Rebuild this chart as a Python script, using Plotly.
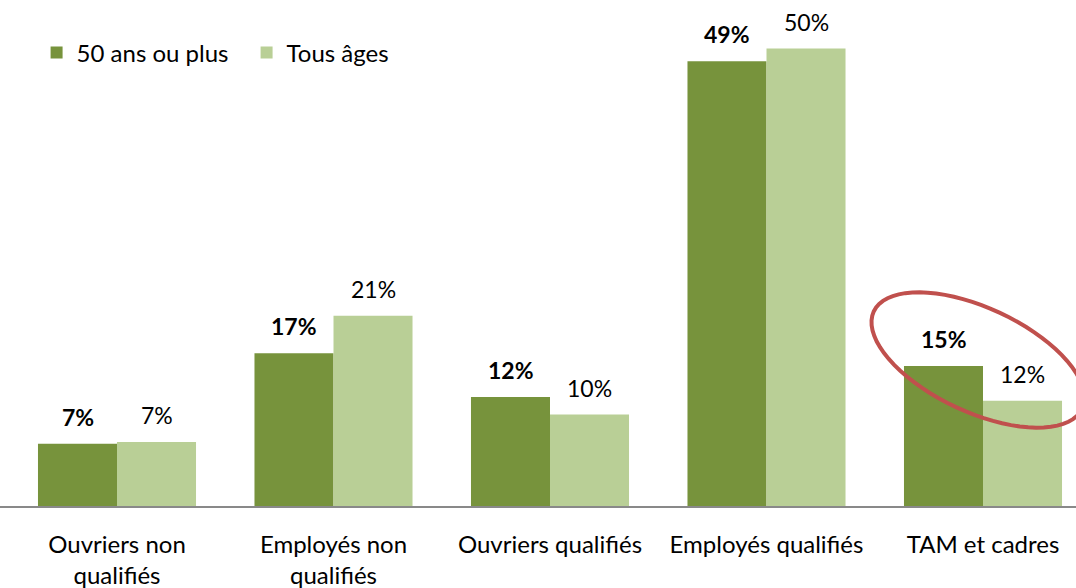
import math
import plotly.graph_objects as go

categories = ["Ouvriers non<br>qualifiés", "Employés non<br>qualifiés", "Ouvriers qualifiés",
              "Employés qualifiés", "TAM et cadres"]
series_names = ["50 ans ou plus", "Tous âges"]
values_50plus = [6.8, 16.7, 11.9, 48.6, 15.3]
values_all = [7.0, 20.8, 10.0, 50.0, 11.5]
labels_50plus = ["7%", "17%", "12%", "49%", "15%"]
labels_all = ["7%", "21%", "10%", "50%", "12%"]

DARK = "#77933C"
LIGHT = "#B9CF96"
FONT = "Lato"
FS = 24

W, H = 1076, 588
PLOT_H = 506
px_per_cat = 216.5
xmin = -117 / px_per_cat
xmax = xmin + W / px_per_cat
ymax = PLOT_H / 9.15

fig = go.Figure()
fig.add_trace(go.Bar(x=list(range(5)), y=values_50plus, name=series_names[0],
                     marker=dict(color=DARK, line=dict(width=0))))
fig.add_trace(go.Bar(x=list(range(5)), y=values_all, name=series_names[1],
                     marker=dict(color=LIGHT, line=dict(width=0))))

annotations = []
for i in range(5):
    annotations.append(dict(x=i, y=values_50plus[i], text="<b>" + labels_50plus[i] + "</b>",
                            xref="x", yref="y", showarrow=False, xshift=-39.5, yshift=27,
                            yanchor="middle", font=dict(family=FONT, size=23, color="#000")))
    annotations.append(dict(x=i, y=values_all[i], text=labels_all[i],
                            xref="x", yref="y", showarrow=False, xshift=39.5, yshift=27,
                            yanchor="middle", font=dict(family=FONT, size=23, color="#000")))

# annotation ellipse (decorative)
cx, cy, a, b, th = 978, 360, 115, 52, math.radians(25)
pts = []
for k in range(73):
    t = 2 * math.pi * k / 72
    px = cx + a * math.cos(t) * math.cos(th) - b * math.sin(t) * math.sin(th)
    py = cy + a * math.cos(t) * math.sin(th) + b * math.sin(t) * math.cos(th)
    pts.append((px / W, 1 - py / PLOT_H))
path = "M " + " L ".join(f"{x:.5f},{y:.5f}" for x, y in pts) + " Z"

fig.update_layout(
    width=W, height=H,
    margin=dict(l=0, r=0, t=0, b=H - PLOT_H, autoexpand=False),
    plot_bgcolor="white", paper_bgcolor="white",
    barmode="group", bargap=0.27, bargroupgap=0,
    font=dict(family=FONT, size=FS, color="#000"),
    showlegend=True,
    legend=dict(orientation="h", x=0.034, y=1 - 53 / PLOT_H, xanchor="left", yanchor="middle",
                font=dict(family=FONT, size=FS, color="#000"), bgcolor="rgba(0,0,0,0)",
                itemwidth=30, entrywidth=165, entrywidthmode="pixels"),
    xaxis=dict(range=[xmin, xmax], tickmode="array", tickvals=list(range(5)), ticktext=categories,
               showgrid=False, zeroline=False, showline=True, linecolor="#898989", linewidth=2,
               ticks="", ticklabelstandoff=16, automargin=False,
               tickfont=dict(family=FONT, size=FS, color="#000")),
    yaxis=dict(range=[0, ymax], visible=False, showgrid=False, zeroline=False, automargin=False),
    annotations=annotations,
    shapes=[dict(type="path", path=path, xref="paper", yref="paper",
                 line=dict(color="#C0504D", width=4), fillcolor="rgba(0,0,0,0)")],
)

fig.write_html("out.html", config={"displayModeBar": False},
               post_script="document.body.style.margin='0';document.body.style.overflow='hidden';")
